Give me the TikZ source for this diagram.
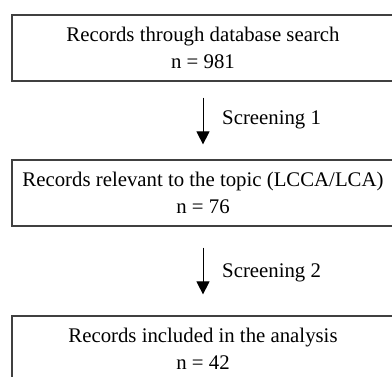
\documentclass[tikz,border=0pt]{standalone}
\usepackage{fontspec}
\setmainfont{Liberation Serif}
\usetikzlibrary{arrows.meta}
\begin{document}
\begin{tikzpicture}[x=1pt,y=-1pt,
  box/.style={draw=black!75, line width=1.2pt, minimum width=382pt, minimum height=66pt,
    inner sep=0pt, align=center, font=\fontsize{20.8pt}{27pt}\selectfont},
  arr/.style={draw=black, line width=0.9pt, -{Triangle[width=13pt,length=13pt]}},
  lbl/.style={anchor=base west, inner sep=0pt, font=\fontsize{20.8pt}{27pt}\selectfont}]
\useasboundingbox (0,0) rectangle (392,376);
\node[box] (top) at (203,48) {Records through database search\\n = 981};
\node[box] (mid) at (203,193) {Records relevant to the topic (LCCA/LCA)\\n = 76};
\node[box] (bot) at (203,349) {Records included in the analysis\\n = 42};
\draw[arr, shorten <=16pt, shorten >=15pt] (top.south) -- (mid.north);
\draw[arr, shorten <=21pt, shorten >=21pt] (mid.south) -- (bot.north);
\node[lbl] (s1) at (222,124) {Screening 1};
\node[lbl] (s2) at (222,277) {Screening 2};
\end{tikzpicture}
\end{document}
